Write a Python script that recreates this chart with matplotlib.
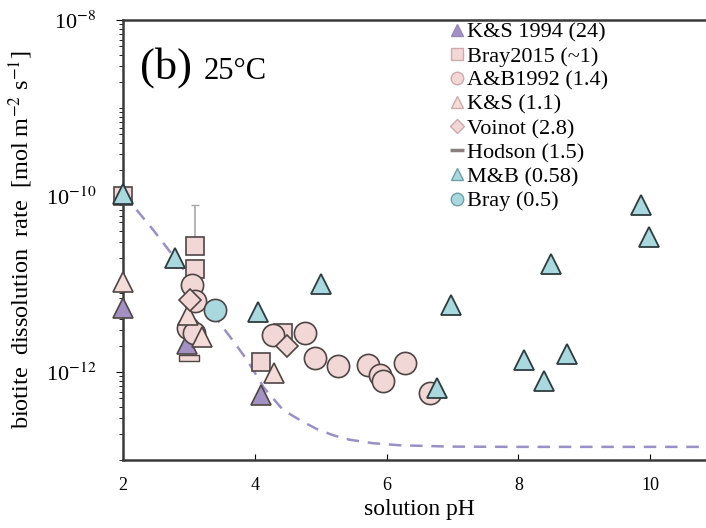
#!/usr/bin/env python3
"""Biotite dissolution rate vs solution pH at 25°C (panel b)."""
import math
import matplotlib
matplotlib.use("Agg")
import matplotlib.pyplot as plt
from matplotlib.lines import Line2D
from matplotlib.ticker import LogLocator, FixedLocator, FuncFormatter, NullFormatter

# ---- data (pH, rate mol m-2 s-1) ----
ks1994_ph = [2.0, 2.97, 4.10]
ks1994_r = [5.4e-12, 2.1e-12, 5.5e-13]

bray2015_ph = [2.0, 3.09, 3.09, 4.10, 4.43]
bray2015_r = [1.0e-10, 2.7e-11, 1.5e-11, 1.3e-12, 2.8e-12]
bray2015_err_up = [0, 5.2e-11, 0, 0, 0]

ab1992_ph = [3.05, 3.10, 2.99, 3.08, 4.28, 4.76, 4.91, 5.26, 5.72, 5.90, 5.95, 6.28, 6.66]
ab1992_r = [9.8e-12, 6.4e-12, 3.2e-12, 2.8e-12, 2.6e-12, 2.75e-12, 1.45e-12,
            1.17e-12, 1.2e-12, 9.3e-13, 7.8e-13, 1.26e-12, 5.7e-13]

ks_ph = [2.0, 2.99, 3.20, 4.29]
ks_r = [1.05e-11, 4.5e-12, 2.5e-12, 9.8e-13]

voinot_ph = [3.02, 4.49]
voinot_r = [6.6e-12, 2.0e-12]

hodson_ph = [3.0]
hodson_r = [1.45e-12]

mb_ph = [2.0, 2.79, 4.05, 5.0, 6.98, 8.49, 9.86, 9.98, 8.09, 8.74, 8.39, 6.76]
mb_r = [1.05e-10, 2.0e-11, 4.8e-12, 1.0e-11, 5.7e-12, 1.7e-11, 7.8e-11, 3.4e-11,
        1.37e-12, 1.6e-12, 7.8e-13, 6.6e-13]

bray_ph = [3.40]
bray_r = [5.0e-12]

# dashed rate-law curve
curve_ph = [2.0, 2.46, 2.91, 3.47, 3.88, 4.14, 4.43, 4.7, 4.94, 5.2, 5.44, 5.8, 6.2, 6.96, 8.0, 11.0]
curve_r = [1.07e-10, 4.1e-11, 1.5e-11, 3.6e-12, 1.38e-12, 6.6e-13, 3.7e-13, 2.8e-13,
           2.25e-13, 1.9e-13, 1.7e-13, 1.55e-13, 1.47e-13, 1.42e-13, 1.41e-13, 1.41e-13]

PINK = "#f2d7d7"
PALE = "#f4dcd8"
PURPLE = "#a391c4"
BLUE = "#a9d9df"
EDGE = "#4f4545"
BEDGE = "#2f3b3f"
HODSON_BAR = [(-1, -0.3), (1, -0.3), (1, 0.3), (-1, 0.3), (-1, -0.3)]

plt.rcParams["font.family"] = ["Liberation Serif", "DejaVu Serif"]
plt.rcParams["mathtext.fontset"] = "stix"

fig = plt.figure(figsize=(7.06, 5.28), dpi=100)
ax = fig.add_axes([123 / 706, 68 / 528, 593 / 706, 440 / 528])

ax.plot(curve_ph, curve_r, "--", color="#9a90c6", lw=1.8, dashes=(5, 3.5), zorder=1)

mk = dict(ls="none", mec=EDGE, mew=1.2, zorder=3, clip_on=False)
ax.plot(ks1994_ph, ks1994_r, "^", ms=14, mfc=PURPLE, **mk)
ax.errorbar(bray2015_ph, bray2015_r, yerr=[[0] * len(bray2015_err_up), bray2015_err_up],
            fmt="none", ecolor="#a8a8a8", elinewidth=1.2, capsize=3, zorder=2)
ax.plot(bray2015_ph, bray2015_r, "s", ms=13, mfc=PINK, **mk)
ax.plot(ab1992_ph, ab1992_r, "o", ms=16, mfc=PINK, **mk)
ax.plot(ks_ph, ks_r, "^", ms=14, mfc=PALE, **mk)
ax.plot(voinot_ph, voinot_r, "D", ms=11, mfc=PINK, **mk)
ax.plot(hodson_ph, hodson_r, marker=HODSON_BAR, ms=14, mfc=PINK, ls="none",
        mec=EDGE, mew=1.0, zorder=3)
ax.plot(mb_ph, mb_r, "^", ms=14, mfc=BLUE, ls="none", mec=BEDGE, mew=1.3, zorder=4,
        clip_on=False)
ax.plot(bray_ph, bray_r, "o", ms=16, mfc=BLUE, ls="none", mec=EDGE, mew=1.2, zorder=4)

ax.set_yscale("log")
ax.set_xlim(2, 11)
ax.set_ylim(1e-13, 1e-8)
ax.xaxis.set_major_locator(FixedLocator([2, 4, 6, 8, 10]))
ax.yaxis.set_major_locator(FixedLocator([1e-12, 1e-10, 1e-8]))
ax.yaxis.set_major_formatter(FuncFormatter(lambda v, p: r"10$^{%d}$" % round(math.log10(v))))
ax.yaxis.set_minor_locator(LogLocator(base=10, subs=range(1, 10), numticks=20))
ax.yaxis.set_minor_formatter(NullFormatter())
ax.tick_params(axis="y", which="major", direction="out", length=5, labelsize=16, pad=14)
ax.tick_params(axis="y", which="minor", direction="out", length=3)
ax.tick_params(axis="x", direction="in", length=4, labelsize=13, pad=12)

for s in ["left", "bottom", "top"]:
    ax.spines[s].set_linewidth(1.8)
    ax.spines[s].set_color("#3a3a3a")
ax.spines["right"].set_visible(False)

ax.set_xlabel("solution pH", fontsize=17, labelpad=4)
ax.set_ylabel(r"biotite  dissolution  rate  [mol m$^{-2}$ s$^{-1}$]", fontsize=17.5, labelpad=8)

fig.text(140 / 706, 1 - 79 / 528, "(b)", fontsize=32, va="baseline")
fig.text(204 / 706, 1 - 79 / 528, "25°C", fontsize=22, va="baseline")

lk = dict(ls="none", ms=9)
handles = [
    Line2D([], [], marker="^", mfc=PURPLE, mec="#9887b8", **lk),
    Line2D([], [], marker="s", mfc=PINK, mec="#cfa9ad", **lk),
    Line2D([], [], marker="o", mfc=PINK, mec="#cfa9ad", **lk),
    Line2D([], [], marker="^", mfc=PALE, mec="#cfa9ad", **lk),
    Line2D([], [], marker="D", mfc=PINK, mec="#cfa9ad", ls="none", ms=7),
    Line2D([], [], marker="_", mec="#8a7f80", mew=2.5, ls="none", ms=10),
    Line2D([], [], marker="^", mfc=BLUE, mec="#6f9ea6", **lk),
    Line2D([], [], marker="o", mfc=BLUE, mec="#6f9ea6", **lk),
]
labels = ["K&S 1994 (24)", "Bray2015 (~1)", "A&B1992 (1.4)", "K&S (1.1)",
          "Voinot (2.8)", "Hodson (1.5)", "M&B (0.58)", "Bray (0.5)"]
fig.legend(handles, labels, loc="upper left", bbox_to_anchor=(450 / 706, 1 - 22 / 528),
           frameon=False, fontsize=16, handlelength=0.6, handletextpad=0.15,
           labelspacing=0.16, borderpad=0, borderaxespad=0)

fig.savefig("out.png", dpi=100)
